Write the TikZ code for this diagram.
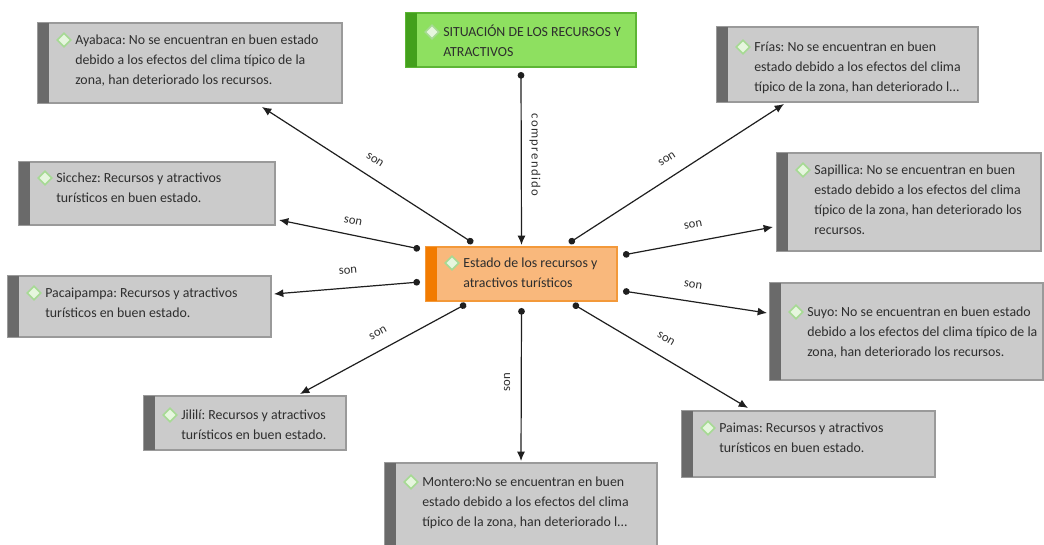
\documentclass[tikz,border=0pt]{standalone}
\usepackage{fontspec}
\setmainfont{Carlito}
\usetikzlibrary{arrows.meta,shapes.geometric,calc}
\definecolor{boxfill}{HTML}{CBCBCB}
\definecolor{boxline}{HTML}{9A9A9A}
\definecolor{boxstripe}{HTML}{6A6A6A}
\definecolor{gfill}{HTML}{8EE060}
\definecolor{gline}{HTML}{5DB535}
\definecolor{gstripe}{HTML}{43A01C}
\definecolor{ofill}{HTML}{F9B87C}
\definecolor{oline}{HTML}{F3993A}
\definecolor{ostripe}{HTML}{F27B00}
\definecolor{dfill}{HTML}{E6F6DE}
\definecolor{dline}{HTML}{A6DA94}
\definecolor{txt}{HTML}{2E2E2E}
\frenchspacing
\tikzset{
  basebox/.style={anchor=north west, inner sep=0pt, outer sep=0pt, line width=0.8pt},
  graybox/.style={basebox, draw=boxline, fill=boxfill},
  greenbox/.style={basebox, draw=gline, fill=gfill},
  orangebox/.style={basebox, draw=oline, fill=ofill},
  dicon/.style={diamond, draw=dline, fill=dfill, line width=1.2pt, inner sep=0pt, minimum width=10.5pt, minimum height=10.5pt},
  btxt/.style={anchor=north west, inner sep=0pt, align=left, font=\fontsize{10.4}{15}\selectfont, text=txt},
  lbl/.style={inner sep=0pt, font=\fontsize{9.5}{11}\selectfont, text=txt},
  conn/.style={draw=black!88, line width=0.9pt, {Circle[length=5pt]}-{Latex[length=7pt,width=6pt]}}
}
\newcommand\mybox[9]{%
  \node[#6, minimum width={(#4-#2)*0.75pt}, minimum height={(#5-#3)*0.75pt}] (#1) at (#2,#3) {};
  \fill[#7] (#1.north west) rectangle ([xshift=8.25pt]#1.south west);
  \node[dicon] (#1-i) at ({#2+26},{#8}) {};
  \node[btxt] (#1-t) at ({#2+37},{#8-10}) {\strut #9};
}
\begin{document}
\begin{tikzpicture}[x=0.75pt, y=-0.75pt]
\useasboundingbox (0,0) rectangle (1044,545);
\fill[white] (0,0) rectangle (1044,545);
\clip (0,0) rectangle (1044,545);

\mybox{ayabaca}{38}{23}{342}{103}{graybox}{boxstripe}{40}{Ayabaca: No se encuentran en buen estado\\debido a los efectos del clima típico de la\\zona, han deteriorado los recursos.}
\mybox{situacion}{406}{13}{636}{67}{greenbox}{gstripe}{32}{SITUACIÓN DE LOS RECURSOS Y\\ATRACTIVOS}
\mybox{frias}{717}{27}{978}{102}{graybox}{boxstripe}{47}{Frías: No se encuentran en buen\\estado debido a los efectos del clima\\típico de la zona, han deteriorado l...}
\mybox{sicchez}{19}{162}{275}{225}{graybox}{boxstripe}{178}{Sicchez: Recursos y atractivos\\turísticos en buen estado.}
\mybox{sapillica}{777}{153}{1041}{251}{graybox}{boxstripe}{170}{Sapillica: No se encuentran en buen\\estado debido a los efectos del clima\\típico de la zona, han deteriorado los\\recursos.}
\mybox{pacaipampa}{8}{276}{271}{337}{graybox}{boxstripe}{293}{Pacaipampa: Recursos y atractivos\\turísticos en buen estado.}
\mybox{estado}{426}{247}{617}{301}{orangebox}{ostripe}{263}{Estado de los recursos y\\atractivos turísticos}
\mybox{suyo}{770}{283}{1043}{380}{graybox}{boxstripe}{312}{Suyo: No se encuentran en buen estado\\debido a los efectos del clima típico de la\\zona, han deteriorado los recursos.}
\mybox{jilili}{144}{396}{346}{450}{graybox}{boxstripe}{415}{Jililí: Recursos y atractivos\\turísticos en buen estado.}
\mybox{paimas}{682}{411}{935}{477}{graybox}{boxstripe}{428}{Paimas: Recursos y atractivos\\turísticos en buen estado.}
\mybox{montero}{385}{463}{657}{560}{graybox}{boxstripe}{482}{Montero:No se encuentran en buen\\estado debido a los efectos del clima\\típico de la zona, han deteriorado l...}

% connectors
\draw[conn] ([shift={(0,5)}]situacion.south) -- ([shift={(0,-2)}]estado.north);
\draw[conn] ([shift={(47,-4)}]estado.north west) -- ([shift={(224,4)}]ayabaca.south west);
\draw[conn] ([shift={(143,-4)}]estado.north west) -- ([shift={(67,2)}]frias.south west);
\draw[conn] ([shift={(-6,2)}]estado.north west) -- ([shift={(4,-5)}]sicchez.south east);
\draw[conn] ([shift={(6,8)}]estado.north east) -- ([shift={(-4,-24)}]sapillica.south west);
\draw[conn] ([shift={(-6,35)}]estado.north west) -- ([shift={(3,18)}]pacaipampa.north east);
\draw[conn] ([shift={(6,44)}]estado.north east) -- ([shift={(-3,30)}]suyo.north west);
\draw[conn] ([shift={(40,3)}]estado.south west) -- ([shift={(156,-2)}]jilili.north west);
\draw[conn] ([shift={(0,7)}]estado.south) -- ([shift={(0,-2)}]montero.north);
\draw[conn] ([shift={(-44,3)}]estado.south east) -- ([shift={(66,-3)}]paimas.north west);

% labels
\node[lbl, rotate=-90] (l0) at (535,155) {\addfontfeature{LetterSpace=11}comprendido};
\node[lbl, rotate=-33] (l1) at (375,160) {son};
\node[lbl, rotate=33] (l2) at (667,159) {son};
\node[lbl, rotate=-11.6] (l3) at (353,221) {son};
\node[lbl, rotate=10.6] (l4) at (693,225) {son};
\node[lbl, rotate=4.7] (l5) at (348,271) {son};
\node[lbl, rotate=-8.6] (l6) at (693,285) {son};
\node[lbl, rotate=28.7] (l7) at (378,333) {son};
\node[lbl, rotate=90] (l8) at (507,382) {son};
\node[lbl, rotate=-30.7] (l9) at (666,339) {son};
\end{tikzpicture}
\end{document}
